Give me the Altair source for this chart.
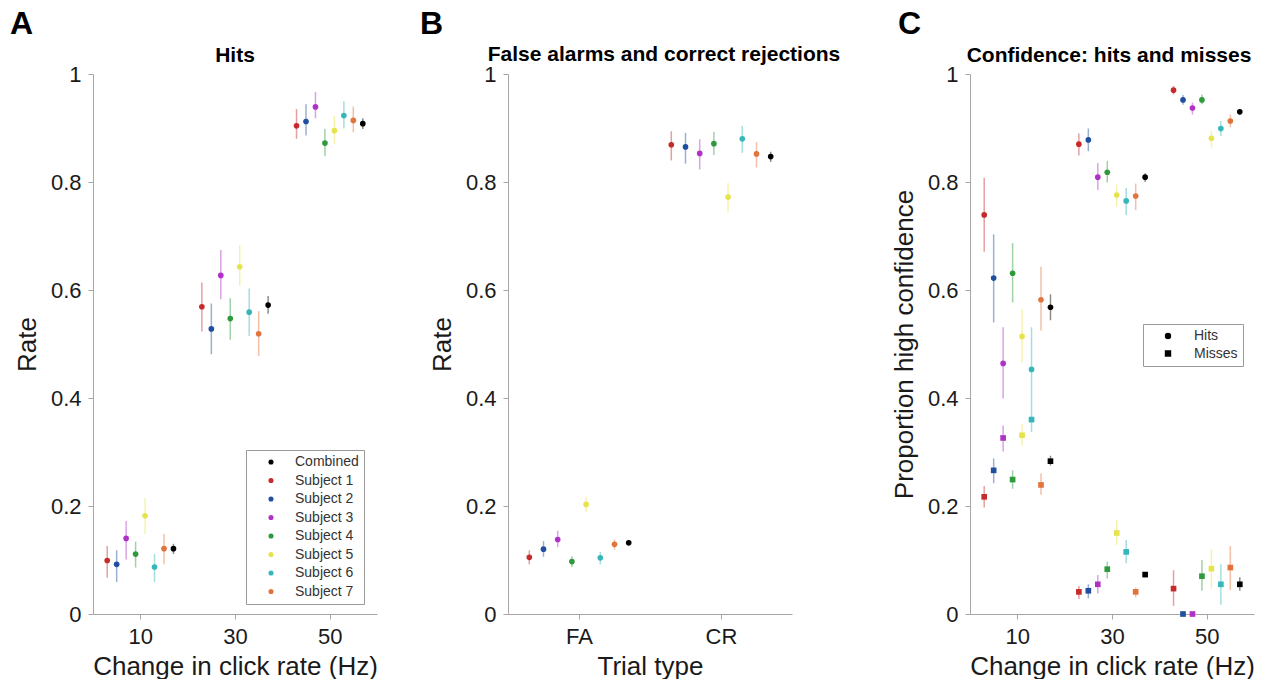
import altair as alt
import pandas as pd

FONT = "Liberation Sans"

# ---------------- series identity ----------------
SUBJECTS = ["Subject 1", "Subject 2", "Subject 3", "Subject 4",
            "Subject 5", "Subject 6", "Subject 7", "Combined"]
COLORS = ["#c62a2a", "#1f4f9e", "#b030c8", "#2e9a3c",
          "#e6e44c", "#36b6b8", "#e2733c", "#000000"]
LEGEND_ORDER = ["Combined", "Subject 1", "Subject 2", "Subject 3",
                "Subject 4", "Subject 5", "Subject 6", "Subject 7"]
LEGEND_COLORS = ["#000000", "#c62a2a", "#1f4f9e", "#b030c8",
                 "#2e9a3c", "#e6e44c", "#36b6b8", "#e2733c"]

CHANGES_HZ = [10, 30, 50]
HZ_OFFSETS = [-7, -5, -3, -1, 1, 3, 5, 7]
TRIAL_TYPES = ["FA", "CR"]
TRIAL_POS = [1, 3]
TRIAL_OFFSETS = [-0.7, -0.5, -0.3, -0.1, 0.1, 0.3, 0.5, 0.7]
Y_TICKS = [0, 0.2, 0.4, 0.6, 0.8, 1]

# ---------------- Panel A: hits ----------------
HITS_MEAN_10 = [0.099, 0.092, 0.140, 0.111, 0.182, 0.087, 0.121, 0.121]
HITS_LO_10 = [0.067, 0.059, 0.101, 0.086, 0.148, 0.059, 0.092, 0.111]
HITS_HI_10 = [0.126, 0.118, 0.172, 0.134, 0.215, 0.111, 0.148, 0.130]
HITS_MEAN_30 = [0.569, 0.528, 0.627, 0.547, 0.643, 0.559, 0.519, 0.572]
HITS_LO_30 = [0.523, 0.481, 0.583, 0.508, 0.608, 0.515, 0.478, 0.556]
HITS_HI_30 = [0.614, 0.575, 0.674, 0.585, 0.683, 0.603, 0.561, 0.589]
HITS_MEAN_50 = [0.904, 0.912, 0.939, 0.872, 0.895, 0.923, 0.914, 0.908]
HITS_LO_50 = [0.880, 0.886, 0.918, 0.848, 0.870, 0.899, 0.892, 0.898]
HITS_HI_50 = [0.935, 0.944, 0.967, 0.898, 0.923, 0.950, 0.940, 0.918]

# ---------------- Panel B: false alarms / correct rejections ----------------
FA_MEAN = [0.105, 0.120, 0.138, 0.097, 0.203, 0.104, 0.129, 0.132]
FA_LO = [0.092, 0.106, 0.124, 0.087, 0.189, 0.092, 0.119, 0.127]
FA_HI = [0.118, 0.135, 0.154, 0.107, 0.217, 0.115, 0.138, 0.137]
CR_MEAN = [0.869, 0.865, 0.853, 0.871, 0.772, 0.880, 0.852, 0.847]
CR_LO = [0.840, 0.834, 0.823, 0.850, 0.745, 0.854, 0.827, 0.837]
CR_HI = [0.894, 0.891, 0.879, 0.893, 0.798, 0.904, 0.874, 0.856]

# ---------------- Panel C: confidence ----------------
CONF_HIT_MEAN_10 = [0.739, 0.622, 0.464, 0.631, 0.514, 0.453, 0.582, 0.568]
CONF_HIT_LO_10 = [0.671, 0.540, 0.399, 0.577, 0.466, 0.380, 0.525, 0.544]
CONF_HIT_HI_10 = [0.808, 0.703, 0.531, 0.687, 0.565, 0.531, 0.643, 0.592]
CONF_HIT_MEAN_30 = [0.870, 0.878, 0.809, 0.818, 0.776, 0.765, 0.774, 0.809]
CONF_HIT_LO_30 = [0.849, 0.857, 0.785, 0.799, 0.754, 0.739, 0.748, 0.800]
CONF_HIT_HI_30 = [0.890, 0.899, 0.835, 0.839, 0.795, 0.789, 0.797, 0.816]
CONF_HIT_MEAN_50 = [0.970, 0.952, 0.937, 0.952, 0.881, 0.899, 0.913, 0.930]
CONF_HIT_LO_50 = [0.962, 0.943, 0.925, 0.944, 0.864, 0.885, 0.901, 0.925]
CONF_HIT_HI_50 = [0.978, 0.961, 0.947, 0.962, 0.895, 0.913, 0.925, 0.935]

CONF_MISS_MEAN_10 = [0.217, 0.266, 0.326, 0.249, 0.331, 0.360, 0.239, 0.283]
CONF_MISS_LO_10 = [0.197, 0.242, 0.301, 0.232, 0.312, 0.337, 0.221, 0.275]
CONF_MISS_HI_10 = [0.237, 0.288, 0.349, 0.266, 0.352, 0.380, 0.260, 0.293]
CONF_MISS_MEAN_30 = [0.041, 0.043, 0.055, 0.083, 0.150, 0.115, 0.041, 0.073]
CONF_MISS_LO_30 = [0.028, 0.029, 0.038, 0.066, 0.128, 0.094, 0.031, 0.068]
CONF_MISS_HI_30 = [0.052, 0.055, 0.072, 0.097, 0.174, 0.137, 0.049, 0.078]
CONF_MISS_MEAN_50 = [0.047, 0.0, 0.0, 0.070, 0.084, 0.055, 0.086, 0.055]
CONF_MISS_LO_50 = [0.015, 0.0, 0.0, 0.043, 0.047, 0.017, 0.044, 0.043]
CONF_MISS_HI_50 = [0.081, 0.0, 0.0, 0.100, 0.120, 0.092, 0.126, 0.068]


def build(center, offsets, means, los, his, kind=""):
    out = []
    for i, s in enumerate(SUBJECTS):
        out.append({"x": center + offsets[i], "subject": s, "hex": COLORS[i],
                    "mean": means[i], "lo": los[i], "hi": his[i], "kind": kind})
    return out


rows_a = (build(10, HZ_OFFSETS, HITS_MEAN_10, HITS_LO_10, HITS_HI_10)
          + build(30, HZ_OFFSETS, HITS_MEAN_30, HITS_LO_30, HITS_HI_30)
          + build(50, HZ_OFFSETS, HITS_MEAN_50, HITS_LO_50, HITS_HI_50))
df_a = pd.DataFrame(rows_a)

rows_b = (build(TRIAL_POS[0], TRIAL_OFFSETS, FA_MEAN, FA_LO, FA_HI)
          + build(TRIAL_POS[1], TRIAL_OFFSETS, CR_MEAN, CR_LO, CR_HI))
df_b = pd.DataFrame(rows_b)

rows_c = (build(10, HZ_OFFSETS, CONF_HIT_MEAN_10, CONF_HIT_LO_10, CONF_HIT_HI_10, "Hits")
          + build(30, HZ_OFFSETS, CONF_HIT_MEAN_30, CONF_HIT_LO_30, CONF_HIT_HI_30, "Hits")
          + build(50, HZ_OFFSETS, CONF_HIT_MEAN_50, CONF_HIT_LO_50, CONF_HIT_HI_50, "Hits")
          + build(10, HZ_OFFSETS, CONF_MISS_MEAN_10, CONF_MISS_LO_10, CONF_MISS_HI_10, "Misses")
          + build(30, HZ_OFFSETS, CONF_MISS_MEAN_30, CONF_MISS_LO_30, CONF_MISS_HI_30, "Misses")
          + build(50, HZ_OFFSETS, CONF_MISS_MEAN_50, CONF_MISS_LO_50, CONF_MISS_HI_50, "Misses"))
df_c = pd.DataFrame(rows_c)

W, H = 284, 540


def y_enc(title, field="mean"):
    return alt.Y(f"{field}:Q", scale=alt.Scale(domain=[0, 1], nice=False, zero=False),
                 axis=alt.Axis(values=Y_TICKS, format=".1~f", title=title))


def x_hz():
    return alt.X("x:Q", scale=alt.Scale(domain=[0, 60], nice=False, zero=False),
                 axis=alt.Axis(values=CHANGES_HZ, title="Change in click rate (Hz)"))


def x_trial():
    return alt.X("x:Q", scale=alt.Scale(domain=[0, 4], nice=False, zero=False),
                 axis=alt.Axis(values=TRIAL_POS, title="Trial type",
                               labelExpr="datum.value == 1 ? 'FA' : 'CR'"))


def err_layer(df, xenc, ytitle):
    return alt.Chart(df).mark_rule(strokeWidth=1.5, opacity=0.45).encode(
        x=xenc, y=y_enc(ytitle, "lo"), y2="hi:Q",
        color=alt.Color("hex:N", scale=None))


def text_layer(txt, dx, dy, size, align):
    return alt.Chart(pd.DataFrame({"t": [txt]})).mark_text(
        font=FONT, fontSize=size, fontWeight="bold", align=align,
        baseline="alphabetic", color="black").encode(
        x=alt.value(dx), y=alt.value(dy), text="t:N")


# ---- Panel A ----
pts_a = alt.Chart(df_a).mark_point(filled=True, shape="circle", size=32, opacity=1).encode(
    x=x_hz(), y=y_enc("Rate"),
    color=alt.Color("subject:N",
                    scale=alt.Scale(domain=LEGEND_ORDER, range=LEGEND_COLORS),
                    legend=alt.Legend(title=None, orient="none", legendX=153, legendY=376,
                                      symbolType="circle", symbolSize=26, symbolOpacity=1,
                                      symbolStrokeWidth=0,
                                      labelFontSize=14, labelFont=FONT, labelColor="#333333",
                                      padding=5, rowPadding=4.5, strokeColor="#9a9a9a",
                                      fillColor="white", symbolOffset=13, labelOffset=17)))
panel_a = alt.layer(err_layer(df_a, x_hz(), "Rate"), pts_a,
                    text_layer("Hits", W / 2, -12, 21, "center"),
                    text_layer("A", -83, -40, 32, "left")).properties(width=W, height=H)

# ---- Panel B ----
pts_b = alt.Chart(df_b).mark_circle(size=32, opacity=1).encode(
    x=x_trial(), y=y_enc("Rate"), color=alt.Color("hex:N", scale=None))
panel_b = alt.layer(err_layer(df_b, x_trial(), "Rate"), pts_b,
                    text_layer("False alarms and correct rejections", W / 2 + 14, -13, 21, "center"),
                    text_layer("B", -88, -40, 32, "left")).properties(width=W, height=H)

# ---- Panel C ----
pts_c = alt.Chart(df_c).mark_point(filled=True, size=32, opacity=1).encode(
    x=x_hz(), y=y_enc("Proportion high confidence"),
    color=alt.Color("hex:N", scale=None),
    shape=alt.Shape("kind:N",
                    scale=alt.Scale(domain=["Hits", "Misses"], range=["circle", "square"]),
                    legend=alt.Legend(title=None, orient="none", legendX=1050, legendY=250,
                                      symbolSize=24, symbolFillColor="black",
                                      symbolStrokeColor="black", symbolOpacity=1,
                                      labelFontSize=14, labelFont=FONT, labelColor="#333333",
                                      padding=5, rowPadding=3.5, strokeColor="#9a9a9a",
                                      fillColor="white", symbolOffset=13, labelOffset=19)))
panel_c = alt.layer(err_layer(df_c, x_hz(), "Proportion high confidence"), pts_c,
                    text_layer("Confidence: hits and misses", W / 2 - 3, -12, 21, "center"),
                    text_layer("C", -72, -40, 32, "left")).properties(width=W, height=H)


def spacer(w):
    return alt.Chart(pd.DataFrame({"a": [0]})).mark_point(opacity=0).encode(
        x=alt.X("a:Q", axis=None), y=alt.Y("a:Q", axis=None)).properties(width=w, height=H)


chart = alt.hconcat(panel_a, spacer(111), panel_b, spacer(158), panel_c,
                    spacing=10, bounds="flush").properties(
    padding={"left": 10, "top": 8, "right": 5, "bottom": 0}
).configure_view(stroke=None).configure_axis(
    grid=False, domainColor="#a6a6a6", tickColor="#a6a6a6", tickSize=5,
    labelFont=FONT, labelFontSize=22, labelColor="#1a1a1a", labelPadding=7,
    titleFont=FONT, titleFontSize=26, titleFontWeight="normal", titleColor="#1a1a1a",
).configure_axisY(titlePadding=10).configure_axisX(titlePadding=6).configure_legend(
    symbolOpacity=1)

chart.save("out.html", embed_options={"renderer": "svg", "actions": False})
